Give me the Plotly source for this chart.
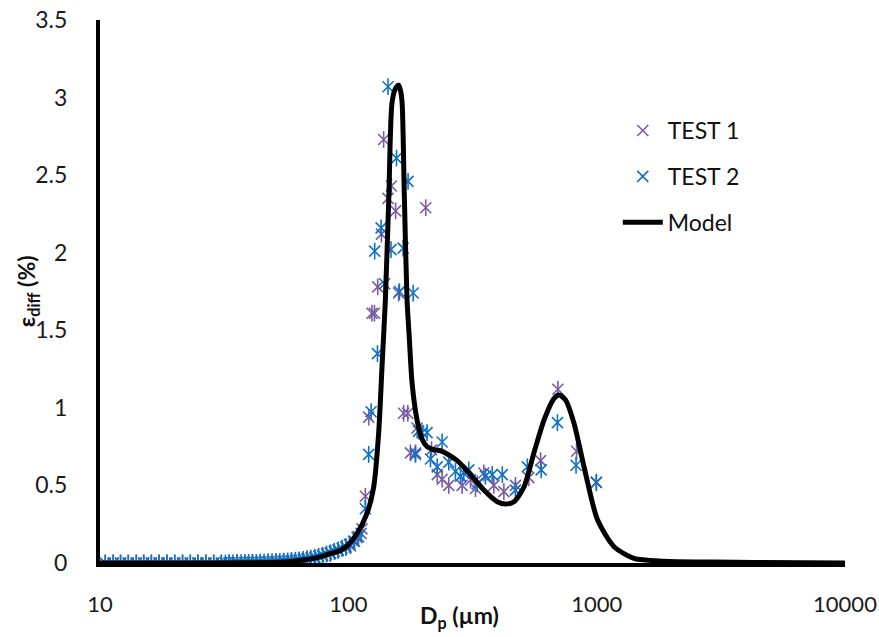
import plotly.graph_objects as go

# ---------------- data ----------------
test1_x = [10.5, 11.3, 12.1, 13.0, 14.0, 15.0, 16.1, 17.3, 18.6, 20.0, 21.5, 23.1, 24.8, 26.7, 28.7,
           30.8, 33.1, 35.6, 38.3, 41.1, 44.2, 47.5, 51.1, 54.9, 59.0, 63.4, 68.2, 73.3, 78.8, 84.7,
           91.0, 97.8, 102, 106, 110, 113.5, 117.1, 120.8, 124.5, 127.4, 131.3, 135.9, 138.7,
           144.5, 149, 155, 159.4, 167, 173.5, 177.8, 186.4, 189, 205, 216.3, 228, 238.6, 253.8,
           287.2, 310.5, 325, 351.3, 385.4, 423, 471, 533, 594.6, 698, 830, 997]
test1_y = [0, 0, 0, 0, 0, 0, 0, 0, 0, 0, 0, 0, 0, 0, 0,
           0, 0.001, 0.002, 0.003, 0.004, 0.005, 0.006, 0.008, 0.01, 0.013, 0.017, 0.023, 0.032, 0.045, 0.06,
           0.08, 0.1, 0.11, 0.14, 0.17, 0.22, 0.43, 0.94, 1.61, 1.61, 1.78, 2.12, 2.73,
           2.35, 2.43, 2.27, 1.74, 0.965, 0.965, 0.71, 0.71, 0.87, 2.29, 0.73, 0.57, 0.54, 0.50,
           0.50, 0.535, 0.48, 0.58, 0.50, 0.46, 0.50, 0.55, 0.66, 1.12, 0.72, 0.52]

test2_x = [10.5, 11.3, 12.1, 13.0, 14.0, 15.0, 16.1, 17.3, 18.6, 20.0, 21.5, 23.1, 24.8, 26.7, 28.7,
           30.8, 32.0, 33.1, 34.3, 35.6, 37.0, 38.3, 39.7, 41.1, 42.6, 44.2, 45.8, 47.5, 49.3, 51.1,
           53.0, 54.9, 57.0, 59.0, 61.2, 63.4, 65.8, 68.2, 70.7, 73.3, 76.0, 78.8, 81.7, 84.7, 87.8,
           91.0, 94.4, 97.8, 101, 105, 108.5, 112.5, 117.1, 120.8, 123.5, 127.7, 131, 135.5, 140,
           144.5, 148.5, 156.3, 160.6, 166.2, 174, 182.4, 186.4, 192, 198, 207.5, 214.2, 228,
           238.6, 253.8, 269.9, 283, 291.7, 305.6, 330.4, 356.6, 379.6, 416.9, 471, 525.6, 598,
           695, 826, 997]
test2_y = [0, 0, 0, 0, 0, 0, 0, 0, 0, 0, 0, 0, 0, 0, 0,
           0, 0, 0.001, 0.001, 0.002, 0.002, 0.003, 0.003, 0.004, 0.004, 0.005, 0.006, 0.007, 0.008, 0.009,
           0.01, 0.012, 0.014, 0.016, 0.018, 0.02, 0.024, 0.028, 0.032, 0.037, 0.043, 0.05, 0.058, 0.066, 0.075,
           0.085, 0.095, 0.105, 0.12, 0.14, 0.165, 0.19, 0.35, 0.70, 0.975, 2.01, 1.35, 2.16, 1.80,
           3.07, 2.02, 2.61, 1.75, 2.03, 2.46, 1.74, 0.70, 0.85, 0.84, 0.84, 0.67, 0.62,
           0.78, 0.65, 0.59, 0.56, 0.58, 0.60, 0.51, 0.56, 0.57, 0.57, 0.47, 0.62, 0.60,
           0.905, 0.63, 0.52]

model_x = [10, 20, 40, 55, 65.8, 75, 84.5, 92.9, 98.9, 108.4, 118.9, 126.5, 132.5, 136.7, 141,
           145.5, 150, 155, 159.5, 162, 164.6, 168, 172.3, 176, 180.6, 189.2, 198, 207.5, 222,
           238.6, 274.3, 310.3, 351.4, 397.9, 429.9, 464.5, 509.5, 558.9, 613.2, 673, 705, 750,
           810.6, 889.4, 1007, 1175, 1413, 1862, 2965, 4297, 10000]
model_y = [0, 0, 0.002, 0.006, 0.02, 0.035, 0.06, 0.08, 0.11, 0.19, 0.32, 0.49, 0.84, 1.27, 1.70,
           2.35, 2.97, 3.06, 3.08, 3.05, 2.97, 2.38, 1.70, 1.45, 1.16, 0.92, 0.80, 0.75, 0.73,
           0.72, 0.66, 0.57, 0.47, 0.395, 0.38, 0.395, 0.49, 0.71, 0.92, 1.06, 1.083, 1.05,
           0.90, 0.62, 0.28, 0.105, 0.03, 0.012, 0.006, 0.003, 0]

y_ticks = [0, 0.5, 1, 1.5, 2, 2.5, 3, 3.5]
y_tick_text = ["0", "0.5", "1", "1.5", "2", "2.5", "3", "3.5"]
x_ticks = [10, 100, 1000, 10000]
x_tick_text = ["10", "100", "1000", "10000"]

# ---------------- styles ----------------
PURPLE = "#7a5ca3"
BLUE = "#0f72c4"
FONT = "Lato"
MS = 11

fig = go.Figure()

def add_test(xs, ys, name, color, group):
    fig.add_trace(go.Scatter(
        x=xs, y=ys, mode="markers", name=name, legendgroup=group, showlegend=False,
        marker=dict(symbol="line-ns-open", size=MS + 1, color=color, line=dict(color=color, width=1.6)),
        hoverinfo="skip"))
    fig.add_trace(go.Scatter(
        x=xs, y=ys, mode="markers", name=name, legendgroup=group, showlegend=True,
        marker=dict(symbol="x-thin-open", size=MS, color=color, line=dict(color=color, width=1.6))))

add_test(test1_x, test1_y, "TEST 1", PURPLE, "g1")
add_test(test2_x, test2_y, "TEST 2", BLUE, "g2")

fig.add_trace(go.Scatter(
    x=model_x, y=model_y, mode="lines", name="Model", legendgroup="g3",
    line=dict(color="black", width=5, shape="spline", smoothing=0.7)))

fig.update_layout(
    width=879, height=637,
    margin=dict(l=100, r=34, t=20, b=74),
    paper_bgcolor="white", plot_bgcolor="white",
    font=dict(family=FONT, size=23, color="#1a1a1a"),
    showlegend=True,
    legend=dict(x=0.695, y=0.836, xanchor="left", yanchor="top",
                bgcolor="rgba(0,0,0,0)", font=dict(family=FONT, size=23, color="#111"),
                tracegroupgap=13, itemwidth=40),
    xaxis=dict(type="log", range=[1, 4], tickvals=x_ticks, ticktext=x_tick_text,
               showgrid=False, zeroline=False, showline=True, linecolor="black", linewidth=4,
               ticks="", ticklabelstandoff=19, tickfont=dict(size=22, color="#1a1a1a"),
               ticklabeloverflow="allow", automargin=False),
    yaxis=dict(range=[0, 3.5], tickvals=y_ticks, ticktext=y_tick_text,
               showgrid=False, zeroline=False, showline=True, linecolor="black", linewidth=4,
               ticks="", ticklabelstandoff=24, tickfont=dict(size=23, color="#1a1a1a"),
               ticklabeloverflow="allow", automargin=False),
    annotations=[
        dict(text="<b>D<sub>p</sub> (µm)</b>", xref="paper", yref="paper",
             x=0.483, y=-0.098, xanchor="center", yanchor="middle", showarrow=False,
             font=dict(family=FONT, size=23, color="#111")),
        dict(text="<b>ε<sub>diff</sub> (%)</b>", xref="paper", yref="paper",
             x=-0.097, y=0.50, xanchor="center", yanchor="middle", showarrow=False, textangle=-90,
             font=dict(family=FONT, size=23, color="#111")),
    ],
)

# remove the default 8px page margin so the figure fills the window exactly
fig.write_html("out.html", config={"displayModeBar": False},
               post_script="document.body.style.margin='0';document.body.style.overflow='hidden';")
